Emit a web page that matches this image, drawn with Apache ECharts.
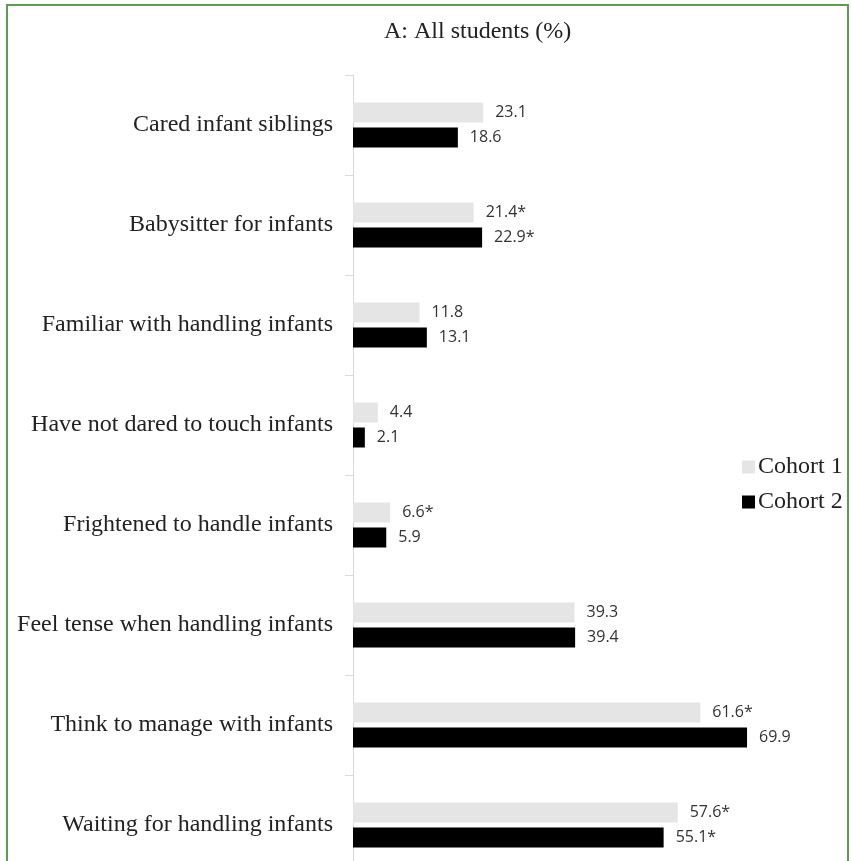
<!DOCTYPE html>
<html>
<head>
<meta charset="utf-8">
<script src="https://cdn.jsdelivr.net/npm/echarts@6/dist/echarts.min.js"></script>
<style>
html,body{margin:0;padding:0;background:#fff;}
#chart{width:851px;height:861px;}
</style>
</head>
<body>
<div id="chart"></div>
<script>
var categories = ['Cared infant siblings','Babysitter for infants','Familiar with handling infants','Have not dared to touch infants','Frightened to handle infants','Feel tense when handling infants','Think to manage with infants','Waiting for handling infants'];
var cohort1 = [23.1, 21.4, 11.8, 4.4, 6.6, 39.3, 61.6, 57.6];
var cohort2 = [18.6, 22.9, 13.1, 2.1, 5.9, 39.4, 69.9, 55.1];
var sig1 = ['', '*', '', '', '*', '', '*', '*'];
var sig2 = ['', '*', '', '', '', '', '', '*'];
var seriesNames = ['Cohort 1', 'Cohort 2'];
var titleText = 'A: All students (%)';

var chart = echarts.init(document.getElementById('chart'));
function lbl(sig){
  return {
    show: true, position: 'right', distance: 12,
    fontFamily: 'Open Sans, Liberation Sans, sans-serif', fontSize: 16, color: '#333',
    formatter: function(p){ return p.value.toFixed(1) + sig[p.dataIndex]; }
  };
}
chart.setOption({
  animation: false,
  backgroundColor: '#fff',
  title: {
    text: titleText, left: 379, top: 15,
    textStyle: {fontFamily: 'Liberation Serif, serif', fontSize: 24, fontWeight: 'normal', color: '#222'}
  },
  legend: {
    orient: 'vertical', left: 737, top: 450, itemWidth: 13, itemHeight: 13, itemGap: 11,
    icon: 'rect',
    textStyle: {fontFamily: 'Liberation Serif, serif', fontSize: 24, color: '#222', padding: [0,0,0,-2]},
    data: seriesNames
  },
  graphic: [{
    type: 'rect', silent: true, z: 100,
    shape: {x: 7, y: 5, width: 841, height: 920},
    style: {fill: 'none', stroke: '#5c9e50', lineWidth: 2}
  }],
  grid: {left: 353, top: 75, width: 451, height: 800, containLabel: false, outerBoundsMode: 'none'},
  xAxis: {type: 'value', min: 0, max: 80, show: false},
  yAxis: {
    type: 'category', inverse: true, data: categories,
    axisLine: {show: true, lineStyle: {color: '#d9d9d9', width: 1}},
    axisTick: {show: true, length: 8, lineStyle: {color: '#d9d9d9'}},
    axisLabel: {margin: 20, fontFamily: 'Liberation Serif, serif', fontSize: 24, color: '#222'}
  },
  series: [
    {name: seriesNames[0], type: 'bar', data: cohort1, barWidth: 20, barGap: '25%',
     itemStyle: {color: '#e6e5e5'}, label: lbl(sig1)},
    {name: seriesNames[1], type: 'bar', data: cohort2, barWidth: 20,
     itemStyle: {color: '#000000'}, label: lbl(sig2)}
  ]
});
</script>
</body>
</html>
